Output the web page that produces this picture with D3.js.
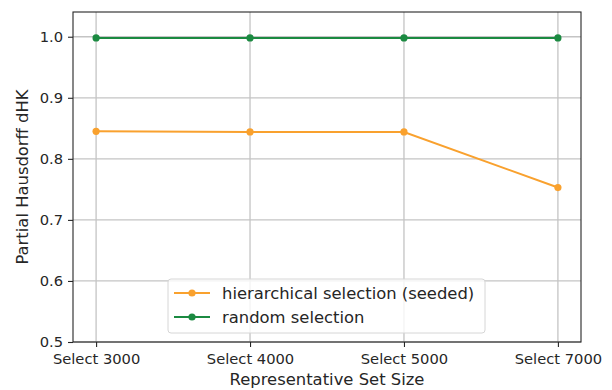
<!DOCTYPE html>
<html>
<head>
<meta charset="utf-8">
<script src="https://cdn.jsdelivr.net/npm/d3@7"></script>
<style>
  body { margin: 0; background: #fff; }
  text { font-family: "DejaVu Sans", sans-serif; fill: #262626; }
</style>
</head>
<body>
<div id="chart"></div>
<script>
var categories = ["Select 3000", "Select 4000", "Select 5000", "Select 7000"];
var hierarchical = [0.845, 0.844, 0.844, 0.753];
var random = [0.998, 0.998, 0.998, 0.998];
var yTicks = [0.5, 0.6, 0.7, 0.8, 0.9, 1.0];
var seriesNames = ["hierarchical selection (seeded)", "random selection"];
var colors = ["#f9a12e", "#1b8a41"];

var width = 612, height = 390;
var margin = {top: 12, right: 31, bottom: 48, left: 73};
var w = width - margin.left - margin.right,
    h = height - margin.top - margin.bottom;

var svg = d3.select("#chart").append("svg")
    .attr("width", width)
    .attr("height", height);
var g = svg.append("g")
    .attr("transform", "translate(" + margin.left + "," + margin.top + ")");

// point positions with matplotlib-like 5% margins
var xi = d3.scaleLinear().domain([-0.15, categories.length - 1 + 0.15]).range([0, w]);
var y = d3.scaleLinear().domain([0.5, 1.0405]).range([h, 0]);

// grid
g.selectAll(".hgrid").data(yTicks).enter().append("line")
    .attr("x1", 0).attr("x2", w)
    .attr("y1", function(d) { return y(d); }).attr("y2", function(d) { return y(d); })
    .attr("stroke", "#c4c4c4").attr("stroke-width", 1.3);
g.selectAll(".vgrid").data(categories).enter().append("line")
    .attr("x1", function(d, i) { return xi(i); }).attr("x2", function(d, i) { return xi(i); })
    .attr("y1", 0).attr("y2", h)
    .attr("stroke", "#c4c4c4").attr("stroke-width", 1.3);

// axes
var yAxis = g.append("g")
    .call(d3.axisLeft(y).tickValues(yTicks).tickFormat(d3.format(".1f")).tickSize(5).tickPadding(5));
var xAxis = g.append("g")
    .attr("transform", "translate(0," + h + ")")
    .call(d3.axisBottom(xi).tickValues(d3.range(categories.length))
        .tickFormat(function(i) { return categories[i]; }).tickSize(5).tickPadding(7));
[xAxis, yAxis].forEach(function(a) {
  a.select(".domain").remove();
  a.selectAll("line").attr("stroke", "#262626").attr("stroke-width", 1.1);
  a.selectAll("text").style("font-size", "14.7px").attr("fill", "#262626");
});

// frame
g.append("rect").attr("width", w).attr("height", h)
    .attr("fill", "none").attr("stroke", "#262626").attr("stroke-width", 1.1);

// series
var line = d3.line()
    .x(function(d, i) { return xi(i); })
    .y(function(d) { return y(d); });
[hierarchical, random].forEach(function(s, k) {
  g.append("path").datum(s)
      .attr("d", line)
      .attr("fill", "none")
      .attr("stroke", colors[k])
      .attr("stroke-width", 2);
  g.selectAll(".pt" + k).data(s).enter().append("circle")
      .attr("cx", function(d, i) { return xi(i); })
      .attr("cy", function(d) { return y(d); })
      .attr("r", 3.6)
      .attr("fill", colors[k]);
});

// legend
var lg = svg.append("g").attr("transform", "translate(168,279)");
lg.append("rect").attr("width", 317).attr("height", 54).attr("rx", 3)
    .attr("fill", "rgba(255,255,255,0.8)").attr("stroke", "#d6d6d6").attr("stroke-width", 1);
seriesNames.forEach(function(n, k) {
  var yy = 14 + k * 24;
  lg.append("line").attr("x1", 6).attr("x2", 42).attr("y1", yy).attr("y2", yy)
      .attr("stroke", colors[k]).attr("stroke-width", 2);
  lg.append("circle").attr("cx", 24).attr("cy", yy).attr("r", 3.6).attr("fill", colors[k]);
  lg.append("text").attr("x", 54).attr("y", yy).attr("dy", "0.35em")
      .style("font-size", "16.4px").text(n);
});

// axis labels
svg.append("text")
    .attr("x", margin.left + w / 2).attr("y", 385)
    .attr("text-anchor", "middle").style("font-size", "16.4px")
    .text("Representative Set Size");
svg.append("text")
    .attr("transform", "translate(28," + (margin.top + h / 2) + ") rotate(-90)")
    .attr("text-anchor", "middle").style("font-size", "16.4px")
    .text("Partial Hausdorff dHK");
</script>
</body>
</html>
